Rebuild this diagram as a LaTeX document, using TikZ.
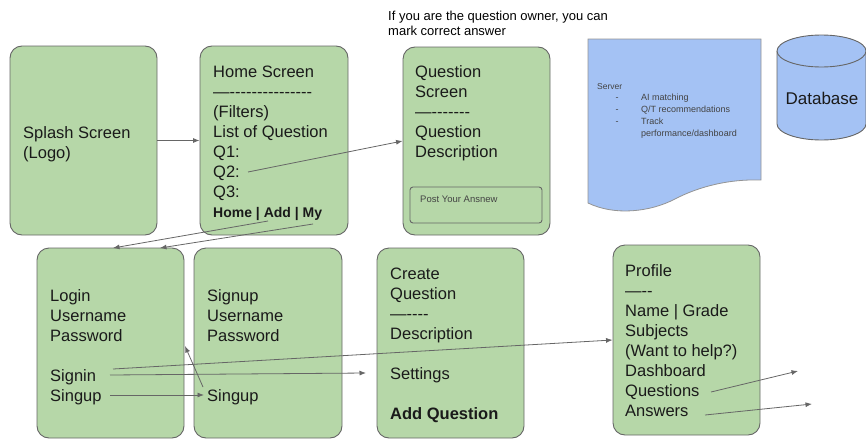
\documentclass[tikz,border=0pt]{standalone}
\usepackage{fontspec}
\setmainfont{Liberation Sans}
\usetikzlibrary{arrows.meta}
\definecolor{gfill}{HTML}{B6D7A8}
\definecolor{bfill}{HTML}{A4C2F4}
\definecolor{edge}{HTML}{666666}
\definecolor{arr}{HTML}{666666}
\definecolor{txt}{HTML}{1A1A1A}
\definecolor{small}{HTML}{434343}
\begin{document}
\begin{tikzpicture}[x=1pt,y=-1pt,
  screen/.style={draw=edge,fill=gfill,line width=0.9pt,rounded corners=12pt,inner sep=0pt},
  body/.style={anchor=north west,align=left,inner sep=0pt,text=txt,font=\fontsize{16.5}{20}\selectfont},
  link/.style={draw=arr,line width=0.8pt,-{Latex[length=6.5pt,width=5pt]}}]
\useasboundingbox (0,0) rectangle (866,439);

% top note
\node[anchor=north west,align=left,inner sep=0pt,text=black,font=\fontsize{13}{14.5}\selectfont] (note) at (388,11) {If you are the question owner, you can\\mark correct answer};

% screens
\node[screen,minimum width=147pt,minimum height=189pt] (splash) at (83.5,140.5) {};
\node[screen,minimum width=148pt,minimum height=189pt] (home) at (274,140.5) {};
\node[screen,minimum width=147pt,minimum height=188pt] (qs) at (476.5,141) {};
\node[draw=edge,fill=gfill,line width=0.9pt,rounded corners=3pt,minimum width=132pt,minimum height=36pt] (post) at (476,205) {};
\node[screen,minimum width=147pt,minimum height=190pt] (login) at (110.5,343) {};
\node[screen,minimum width=148pt,minimum height=190pt] (signup) at (268,343) {};
\node[screen,minimum width=147pt,minimum height=190pt] (create) at (450.5,343) {};
\node[screen,minimum width=147pt,minimum height=190pt] (profile) at (686.5,340) {};

% server document
\path[draw=edge!70,fill=bfill,line width=0.8pt] (588,39) -- (761,39) -- (761,180)
  .. controls (730,179) and (700,186) .. (675,199)
  .. controls (650,212) and (615,216) .. (588,203) -- cycle;
\node[anchor=base west,inner sep=0pt,text=small,font=\fontsize{8.5}{12}\selectfont] (srvlabel) at (597,89) {Server};
\node[anchor=north west,inner sep=0pt,text=small,font=\fontsize{9}{12}\selectfont] (srvlist) at (615.5,91.8)
  {\begin{tabular}{@{}p{25.5pt}@{}l@{}}-&AI matching\\-&Q/T recommendations\\-&Track\\&performance/dashboard\end{tabular}};

% database cylinder
\path[fill=bfill] (777,51) -- (777,124) arc[start angle=180,end angle=0,x radius=44.5,y radius=16] -- (866,51) arc[start angle=0,end angle=180,x radius=44.5,y radius=16] -- cycle;
\draw[edge,line width=0.9pt] (777,51) -- (777,124) arc[start angle=180,end angle=0,x radius=44.5,y radius=16] -- (866,51);
\draw[edge,line width=0.9pt,fill=bfill] (821.5,51) ellipse[x radius=44.5,y radius=16];
\node[inner sep=0pt,text=txt,font=\fontsize{17}{20}\selectfont] (db) at (822,98) {Database};

% texts
\node[body] (splashtxt) at (23,126) {Splash Screen\\(Logo)};
\node[body] (hometxt) at (213,66) {Home Screen\\—-{}-{}-{}-{}-{}-{}-{}-{}-{}-{}-{}-{}-{}-{}-\\(Filters)\\List of Question\\Q1:\\Q2:\\Q3:\\{\fontsize{14}{20}\selectfont\bfseries Home | Add | My}};
\node[body] (qstxt) at (415,65) {Question\\Screen\\—-{}-{}-{}-{}-{}-{}-\\Question\\Description};
\node[anchor=west,inner sep=0pt,text=small,font=\fontsize{9.5}{12}\selectfont] (posttxt) at (420,199) {Post Your Ansnew};
\node[body] (logintxt) at (50,289) {Login\\Username\\Password\\[20pt]Signin\\Singup};
\node[body] (signuptxt) at (207,289) {Signup\\Username\\Password\\[40pt]Singup};
\node[body] (createtxt) at (390,268) {Create\\Question\\—-{}-{}-{}-\\Description\\[20pt]Settings\\[20pt]\textbf{Add Question}};
\node[body] (profiletxt) at (625,264) {Profile\\—-{}-\\Name | Grade\\Subjects\\(Want to help?)\\Dashboard\\Questions\\Answers};

% connector end points
\coordinate (q2) at (248,172);
\coordinate (addend) at (268,221);
\coordinate (lgA) at (113,248);
\coordinate (myend) at (313,224);
\coordinate (lgB) at (160,248);
\coordinate (signinA) at (113,369);
\coordinate (signinB) at (110,375);
\coordinate (createIn) at (366,373);
\coordinate (singupA) at (110,395);
\coordinate (singupB) at (204,395);
\coordinate (singupC) at (203,387);
\coordinate (lgC) at (185,346);
\coordinate (pq) at (711,392);
\coordinate (pqEnd) at (798,371);
\coordinate (pa) at (705,415);
\coordinate (paEnd) at (812,404);

% connectors
\draw[link] (splash) -- (home);
\draw[link] (q2) -- (qs.west);
\draw[link] (addend) -- (lgA);
\draw[link] (myend) -- (lgB);
\draw[link] (signinA) -- (profile.west);
\draw[link] (signinB) -- (createIn);
\draw[link] (singupA) -- (singupB);
\draw[link] (singupC) -- (lgC);
\draw[link] (pq) -- (pqEnd);
\draw[link] (pa) -- (paEnd);
\end{tikzpicture}
\end{document}
